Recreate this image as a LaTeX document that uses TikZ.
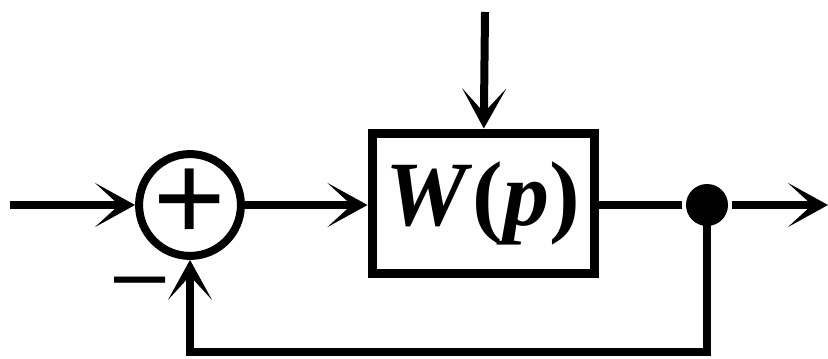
\documentclass[tikz,border=0pt]{standalone}
\usepackage{fontspec}
\setmainfont{Liberation Serif}
\newfontfamily\signfont{Liberation Sans}
\usepackage{tikz}
\usetikzlibrary{arrows.meta, positioning, calc}
\definecolor{lineblack}{HTML}{000000}

\begin{document}
\begin{tikzpicture}[
    x=0.5pt, y=-0.5pt,
    line width=4pt, draw=lineblack,
    sig/.style={-{Stealth[length=20pt, width=22pt, inset=12pt]}},
    sumnode/.style={circle, draw=lineblack, line width=4pt, minimum size=43pt,
                    inner sep=0pt, font=\signfont\fontsize{62}{62}\selectfont},
    plant/.style={rectangle, draw=lineblack, line width=4.5pt, minimum width=111pt,
                  minimum height=70pt, inner sep=0pt, font=\fontsize{46}{50}\selectfont},
    junction/.style={circle, fill=lineblack, minimum size=21pt, inner sep=0pt},
    sign/.style={inner sep=0pt, font=\signfont\fontsize{46}{46}\selectfont}
]
\useasboundingbox (0,0) rectangle (828,358);

\node[sumnode]  (sum)   at (190,205)   {+};
\node[plant]    (wp)    at (483,203)   {\textbf{\textit{W}(\textit{p})}};
\node[junction] (dot)   at (707,205)   {};
\node[sign]     (minus) at (140,290)   {–};

\coordinate (in)   at (10,205);
\coordinate (dist) at (485,12);
\coordinate (out)  at (828,205);
\coordinate (fb)   at (707,352);

\draw[sig] (in) -- (sum);
\draw[sig] (sum) -- (sum -| wp.west);
\draw[sig] (dist) -- (wp);
\draw (sum -| wp.east) -- (dot);
\draw[sig] (dot) -- (out);
\draw[sig] (dot.center) -- (fb) -| (sum);
\end{tikzpicture}
\end{document}
